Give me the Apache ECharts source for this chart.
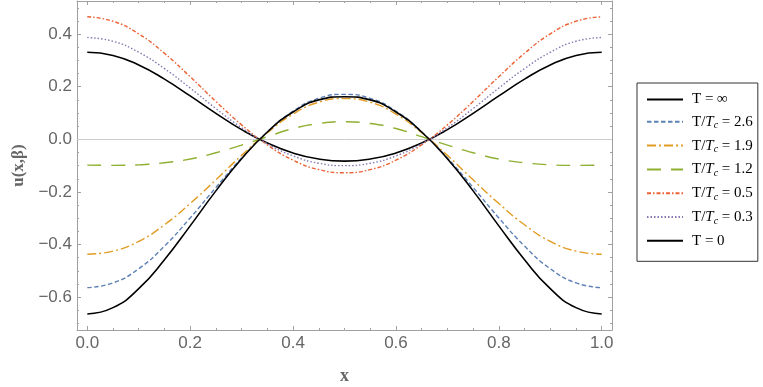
<!DOCTYPE html>
<html>
<head>
<meta charset="utf-8">
<script src="https://cdn.jsdelivr.net/npm/echarts@6/dist/echarts.min.js"></script>
<style>
  html, body { margin: 0; padding: 0; background: #fff; }
  #chart { width: 763px; height: 387px; }
</style>
</head>
<body>
<div id="chart"></div>
<script>
// x sample points
var xs = [0, 0.05, 0.1, 0.15, 0.2, 0.25, 0.3, 0.35, 0.4, 0.45, 0.5,
          0.55, 0.6, 0.65, 0.7, 0.75, 0.8, 0.85, 0.9, 0.95, 1];

// u(x,beta) for each temperature
var tInf  = [0.331, 0.319, 0.283, 0.229, 0.165, 0.099, 0.037, -0.014, -0.052, -0.075, -0.083,
             -0.075, -0.052, -0.014, 0.037, 0.099, 0.165, 0.229, 0.283, 0.319, 0.331];
var t26   = [-0.564, -0.546, -0.492, -0.406, -0.299, -0.183, -0.071, 0.028, 0.107, 0.156, 0.171,
             0.156, 0.107, 0.028, -0.071, -0.183, -0.299, -0.406, -0.492, -0.546, -0.564];
var t19   = [-0.437, -0.425, -0.388, -0.325, -0.244, -0.154, -0.061, 0.025, 0.096, 0.141, 0.155,
             0.141, 0.096, 0.025, -0.061, -0.154, -0.244, -0.325, -0.388, -0.425, -0.437];
var t12   = [-0.098, -0.099, -0.097, -0.089, -0.075, -0.051, -0.022, 0.010, 0.041, 0.060, 0.067,
             0.060, 0.041, 0.010, -0.022, -0.051, -0.075, -0.089, -0.097, -0.099, -0.098];
var t05   = [0.466, 0.449, 0.401, 0.327, 0.238, 0.144, 0.055, -0.021, -0.079, -0.115, -0.127,
             -0.115, -0.079, -0.021, 0.055, 0.144, 0.238, 0.327, 0.401, 0.449, 0.466];
var t03   = [0.387, 0.373, 0.331, 0.269, 0.195, 0.117, 0.044, -0.017, -0.063, -0.091, -0.100,
             -0.091, -0.063, -0.017, 0.044, 0.117, 0.195, 0.269, 0.331, 0.373, 0.387];
var tZero = [-0.664, -0.640, -0.568, -0.458, -0.329, -0.196, -0.074, 0.028, 0.104, 0.150, 0.162,
             0.150, 0.104, 0.028, -0.074, -0.196, -0.329, -0.458, -0.568, -0.640, -0.664];

// tick positions
var xTicks = [0, 0.2, 0.4, 0.6, 0.8, 1.0];
var xMinor = [0.05, 0.1, 0.15, 0.25, 0.3, 0.35, 0.45, 0.5, 0.55, 0.65, 0.7, 0.75, 0.85, 0.9, 0.95];
var yTicks = [-0.6, -0.4, -0.2, 0, 0.2, 0.4];
var yMinor = [-0.7, -0.65, -0.55, -0.5, -0.45, -0.35, -0.3, -0.25, -0.15, -0.1, -0.05,
              0.05, 0.1, 0.15, 0.25, 0.3, 0.35, 0.45, 0.5];

var frameColor = '#a0a0a0';
var labelColor = '#666666';
var serif = '"Liberation Serif", "DejaVu Serif", serif';

function pairs(ys) {
	var out = [];
	for (var i = 0; i < xs.length; i++) {
		out.push([xs[i], ys[i]]);
	}
	return out;
}

function fmt(v) {
	return (v < 0 ? '\u2212' : '') + Math.abs(v).toFixed(1);
}

// one frame side: major or minor ticks
function frameAxis(pos, ticks, len, showLine, showLabel, lim) {
	return {
		type: 'value',
		position: pos,
		min: lim[0],
		max: lim[1],
		axisLine: { show: showLine, onZero: false, lineStyle: { color: frameColor, width: 1 } },
		axisTick: { show: true, inside: true, length: len, customValues: ticks,
			lineStyle: { color: frameColor, width: 1 } },
		axisLabel: { show: showLabel, customValues: ticks, formatter: fmt,
			color: labelColor, fontSize: 17, fontFamily: '"Liberation Sans", Arial, sans-serif', margin: 5 },
		splitLine: { show: false },
		minorTick: { show: false }
	};
}

var xLim = [-0.02, 1.02];
var yLim = [-0.725, 0.526];

var xAxes = [
	frameAxis('bottom', xTicks, 4, true, true, xLim),
	frameAxis('bottom', xMinor, 2, false, false, xLim),
	frameAxis('top', xTicks, 4, true, false, xLim),
	frameAxis('top', xMinor, 2, false, false, xLim)
];
xAxes[0].name = 'x';
xAxes[0].nameLocation = 'middle';
xAxes[0].nameGap = 37;
xAxes[0].nameTextStyle = { fontFamily: serif, fontWeight: 'bold', fontSize: 18, color: labelColor };

var yAxes = [
	frameAxis('left', yTicks, 4, true, true, yLim),
	frameAxis('left', yMinor, 2, false, false, yLim),
	frameAxis('right', yTicks, 4, true, false, yLim),
	frameAxis('right', yMinor, 2, false, false, yLim)
];
yAxes[0].name = 'u(x,\u03b2)';
yAxes[0].nameLocation = 'middle';
yAxes[0].nameGap = 33;
yAxes[0].nameRotate = 90;
yAxes[0].nameTextStyle = { fontFamily: serif, fontWeight: 'bold', fontSize: 17, color: labelColor };

function line(name, ys, color, dash, width) {
	return {
		name: name,
		type: 'line',
		data: pairs(ys),
		smooth: 0.5,
		symbol: 'none',
		xAxisIndex: 0,
		yAxisIndex: 0,
		lineStyle: { color: color, width: width || 1.4, type: dash },
		itemStyle: { color: color },
		z: 3
	};
}

var series = [
	line('T = \u221e', tInf, '#000000', 'solid', 1.6),
	line('T/Tc = 2.6', t26, '#5E81B5', [4.5, 2.5]),
	line('T/Tc = 1.9', t19, '#E19C24', [9, 3, 2, 3]),
	line('T/Tc = 1.2', t12, '#8FB032', [14, 10]),
	line('T/Tc = 0.5', t05, '#EB6235', [4, 2, 1.5, 2]),
	line('T/Tc = 0.3', t03, '#8778B3', [1.5, 2]),
	line('T = 0', tZero, '#000000', 'solid', 1.6)
];
// y = 0 reference axis line
series[0].markLine = {
	silent: true,
	symbol: 'none',
	label: { show: false },
	lineStyle: { color: '#cccccc', width: 1, type: 'solid' },
	data: [{ yAxis: 0 }],
	z: 1
};

var myChart = echarts.init(document.getElementById('chart'), null, { renderer: 'canvas' });
var option = {
	animation: false,
	backgroundColor: '#ffffff',
	grid: {
		left: 77,
		right: 151,
		top: 1,
		bottom: 57,
		containLabel: false,
		outerBoundsMode: 'none'
	},
	legend: {
		orient: 'vertical',
		left: 637,
		top: 83,
		itemWidth: 36,
		itemHeight: 14,
		itemGap: 7.3,
		padding: [9, 5, 13, 9],
		borderColor: '#333333',
		borderWidth: 1,
		itemStyle: { opacity: 0 },
		data: series.map(function (s) { return s.name; }),
		formatter: function (name) {
			if (name.indexOf('T/Tc') === 0) {
				return '{n|T/}{i|T}{s|c}{n|' + name.substring(4) + '}';
			}
			return '{n|' + name + '}';
		},
		textStyle: {
			padding: [0, 0, 0, 4],
			rich: {
				n: { fontFamily: serif, fontSize: 15, color: '#000', lineHeight: 18, verticalAlign: 'middle' },
				i: { fontFamily: serif, fontSize: 15, color: '#000', fontStyle: 'italic', lineHeight: 18, verticalAlign: 'middle' },
				s: { fontFamily: serif, fontSize: 10, color: '#000', fontStyle: 'italic', lineHeight: 10, verticalAlign: 'bottom' }
			}
		}
	},
	xAxis: xAxes,
	yAxis: yAxes,
	series: series
};

if (option && typeof option === "object") {
	myChart.setOption(option, true);
}
</script>
</body>
</html>
